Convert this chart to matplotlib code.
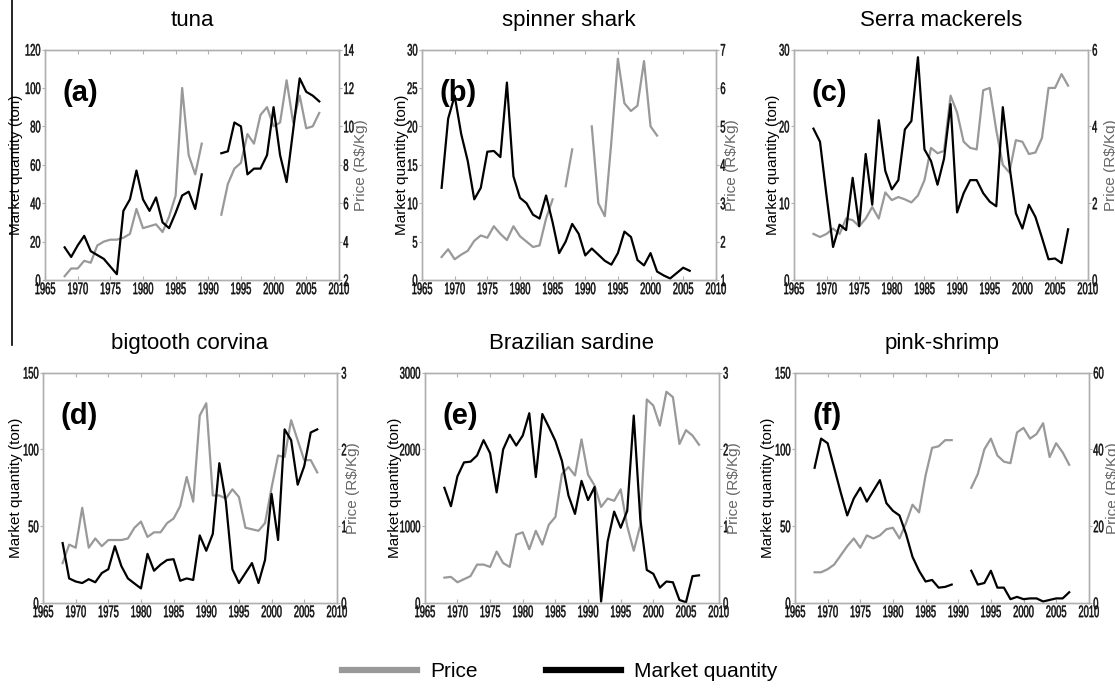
import numpy as np
import matplotlib
matplotlib.use("Agg")
import matplotlib.pyplot as plt
from matplotlib.lines import Line2D
from matplotlib.patheffects import AbstractPathEffect
from matplotlib.transforms import Affine2D

nan = np.nan

# Years on the x axis
years = list(range(1968, 2008))

# (a) tuna
tuna_qty = [17, 12, 18, 23, 15, 13, 11, 7, 3, 36, 42, 57, 42, 36, 43, 30, 27, 35, 44, 46,
            37, 55, nan, nan, 66, 67, 82, 80, 55, 58, 58, 65, 90, 65, 51, 78, 105, 98, 96, 93]
tuna_price = [2.2, 2.6, 2.6, 3.0, 2.9, 3.8, 4.0, 4.1, 4.1, 4.2, 4.4, 5.7, 4.7, 4.8, 4.9, 4.5,
              5.3, 6.4, 12.0, 8.5, 7.5, 9.1, nan, nan, 5.4, 7.0, 7.8, 8.1, 9.6, 9.1, 10.6,
              11.0, 10.0, 10.2, 12.4, 10.2, 11.6, 9.9, 10.0, 10.7]

# (b) spinner shark
shark_qty = [12, 21, 24, 19, 15.5, 10.5, 12, 16.7, 16.8, 16, 25.7, 13.5, 10.7, 10, 8.5, 8,
             11, 7.5, 3.5, 5, 7.3, 6, 3.2, 4.1, 3.3, 2.5, 2, 3.5, 6.3, 5.6, 2.6, 1.9, 3.5,
             1.1, 0.6, 0.2, 0.9, 1.6, 1.2, nan]
shark_price = [1.6, 1.8, 1.54, 1.66, 1.76, 2.02, 2.16, 2.1, 2.4, 2.2, 2.04, 2.4, 2.14, 2.0,
               1.86, 1.9, 2.6, 3.1, nan, 3.44, 4.4, nan, nan, 5.0, 3.0, 2.66, 4.6, 6.76,
               5.6, 5.4, 5.54, 6.7, 5.0, 4.76, nan, nan, nan, nan, nan, nan]

# (c) Serra mackerels
serra_qty = [19.7, 18, 11, 4.3, 7.2, 6.5, 13.3, 7, 16.4, 9.8, 20.8, 14.2, 11.8, 13, 19.6,
             20.7, 29, 17, 15.5, 12.4, 15.8, 22.9, 8.8, 11.3, 13, 13, 11.3, 10.2, 9.6, 22.5,
             15, 8.7, 6.7, 9.8, 8.2, 5.5, 2.7, 2.8, 2.2, 6.6]
serra_price = [1.2, 1.12, 1.2, 1.34, 1.2, 1.6, 1.56, 1.4, 1.6, 1.9, 1.6, 2.28, 2.08, 2.16,
               2.1, 2.02, 2.2, 2.6, 3.44, 3.3, 3.36, 4.8, 4.36, 3.6, 3.44, 3.4, 4.94, 5.0,
               3.9, 3.0, 2.8, 3.64, 3.6, 3.28, 3.32, 3.7, 5.0, 5.0, 5.36, 5.06]

# (d) bigtooth corvina
corvina_qty = [39, 16, 14, 13, 15.5, 13.5, 19.5, 22, 37, 24, 16, 12.7, 9.5, 32, 21, 25, 28,
               28.5, 14.5, 16, 15, 44, 34, 45, 91, 66, 22, 13, 19.5, 26, 13, 28, 71, 41,
               113, 106, 77, 89, 111, 113]
corvina_price = [0.52, 0.76, 0.72, 1.24, 0.72, 0.84, 0.74, 0.82, 0.82, 0.82, 0.84, 0.98,
                 1.06, 0.86, 0.92, 0.92, 1.04, 1.1, 1.26, 1.64, 1.32, 2.44, 2.6, 1.4, 1.4,
                 1.36, 1.48, 1.38, 0.98, 0.96, 0.94, 1.04, 1.5, 1.92, 1.9, 2.38, 2.12,
                 1.86, 1.86, 1.7]

# (e) Brazilian sardine
sardine_qty = [1500, 1260, 1650, 1830, 1840, 1920, 2120, 1950, 1440, 2000, 2190, 2050, 2180,
               2470, 1640, 2460, 2290, 2110, 1850, 1400, 1160, 1590, 1340, 1510, 20, 800,
               1190, 980, 1200, 2440, 1100, 430, 380, 200, 280, 270, 40, 10, 350, 360]
sardine_price = [0.33, 0.34, 0.27, 0.31, 0.35, 0.5, 0.5, 0.47, 0.67, 0.52, 0.47, 0.89, 0.92,
                 0.7, 0.94, 0.76, 1.02, 1.12, 1.68, 1.77, 1.66, 2.13, 1.67, 1.53, 1.25,
                 1.36, 1.33, 1.48, 1.0, 0.68, 1.01, 2.65, 2.57, 2.31, 2.75, 2.68, 2.07,
                 2.25, 2.18, 2.06]

# (f) pink-shrimp
shrimp_qty = [88, 107, 104, 88, 72, 57, 68, 75, 66, 73, 80, 65, 60, 57, 45, 30, 21, 14, 15,
              10, 10.5, 12, nan, nan, 21, 12, 13, 21, 10, 10, 2.5, 4, 2.5, 3, 3, 1, 2, 3, 3, 7]
shrimp_price = [8.0, 8.0, 8.8, 10.0, 12.4, 14.8, 16.8, 14.4, 17.6, 16.8, 17.6, 19.2, 19.6,
                16.8, 20.8, 25.6, 23.6, 33.2, 40.4, 40.8, 42.4, 42.4, nan, nan, 30.0, 33.6,
                40.0, 42.8, 38.4, 36.8, 36.4, 44.4, 45.6, 42.8, 44.0, 46.8, 38.0, 41.6,
                39.2, 36.0]

titles = ["tuna", "spinner shark", "Serra mackerels",
          "bigtooth corvina", "Brazilian sardine", "pink-shrimp"]
letters = ["(a)", "(b)", "(c)", "(d)", "(e)", "(f)"]
qty_list = [tuna_qty, shark_qty, serra_qty, corvina_qty, sardine_qty, shrimp_qty]
price_list = [tuna_price, shark_price, serra_price, corvina_price, sardine_price, shrimp_price]
qty_ticks = [[0, 20, 40, 60, 80, 100, 120], [0, 5, 10, 15, 20, 25, 30], [0, 10, 20, 30],
             [0, 50, 100, 150], [0, 1000, 2000, 3000], [0, 50, 100, 150]]
price_ticks = [[2, 4, 6, 8, 10, 12, 14], [1, 2, 3, 4, 5, 6, 7], [0, 2, 4, 6],
               [0, 1, 2, 3], [0, 1, 2, 3], [0, 20, 40, 60]]
year_ticks = list(range(1965, 2011, 5))


# squeeze text horizontally, the tick numbers in the original are very narrow
class Squeeze(AbstractPathEffect):
    def __init__(self, sx=0.56, anchor="center"):
        super().__init__()
        self.sx = sx
        self.anchor = anchor

    def draw_path(self, renderer, gc, tpath, affine, rgbFace=None):
        ext = tpath.get_extents()
        if self.anchor == "left":
            cx = ext.x0
        elif self.anchor == "right":
            cx = ext.x1
        else:
            cx = (ext.x0 + ext.x1) / 2
        sq = Affine2D().translate(-cx, 0).scale(self.sx, 1).translate(cx, 0)
        # thin outline so the squeezed digits do not look too light
        gc0 = renderer.new_gc()
        gc0.copy_properties(gc)
        gc0.set_linewidth(0.35)
        if rgbFace is not None:
            gc0.set_foreground(rgbFace)
        renderer.draw_path(gc0, tpath, sq + affine, rgbFace)
        gc0.restore()


GRAY = "#999999"
SPINE = "#b0b0b0"
plt.rcParams["font.family"] = ["Liberation Sans", "DejaVu Sans"]

fig = plt.figure(figsize=(11.15, 6.89), dpi=100)

# axes placement (figure fractions)
lefts = [0.0404, 0.3785, 0.712, 0.0386, 0.381, 0.713]
bottoms = [0.5936, 0.5936, 0.5936, 0.1248, 0.1248, 0.1248]
width, height = 0.2635, 0.3345
left_lab_x = [-0.076, -0.046, -0.047, -0.067, -0.078, -0.068]
right_lab_x = [1.05, 1.03, 1.056, 1.03, 1.03, 1.06]

for i in range(6):
    ax = fig.add_axes([lefts[i], bottoms[i], width, height])
    ax2 = ax.twinx()

    ax2.plot(years, price_list[i], color=GRAY, lw=1.6)
    ax.plot(years, qty_list[i], color="black", lw=1.6)
    ax.set_zorder(ax2.get_zorder() + 1)
    ax.patch.set_visible(False)

    ax.set_xlim(1965, 2010)
    ax.set_ylim(qty_ticks[i][0], qty_ticks[i][-1])
    ax2.set_ylim(price_ticks[i][0], price_ticks[i][-1])
    ax.set_xticks(year_ticks)
    ax.set_yticks(qty_ticks[i])
    ax2.set_yticks(price_ticks[i])

    for a in (ax, ax2):
        a.tick_params(axis="y", direction="out", length=2.5, width=0.8, color=SPINE,
                      labelsize=12, pad=0.5, labelcolor="#111111")
        for sp in a.spines.values():
            sp.set_color(SPINE)
            sp.set_linewidth(1.0)
    ax.tick_params(axis="x", direction="in", length=3, width=0.8, color=SPINE,
                   labelsize=12, pad=1.5, labelcolor="#111111", top=True)

    for lab in ax.get_xticklabels():
        lab.set_path_effects([Squeeze(0.56, "center")])
    for lab in ax.get_yticklabels():
        lab.set_path_effects([Squeeze(0.56, "right")])
    for lab in ax2.get_yticklabels():
        lab.set_path_effects([Squeeze(0.56, "left")])

    ax.set_ylabel("Market quantity (ton)", fontsize=11)
    ax2.set_ylabel("Price (R$/Kg)", fontsize=11, color="#666666")
    ax.yaxis.set_label_coords(left_lab_x[i], 0.5)
    ax2.yaxis.set_label_coords(right_lab_x[i], 0.5)
    ax.set_title(titles[i], fontsize=16, pad=17)
    ax.text(0.06, 0.81, letters[i], transform=ax.transAxes, fontsize=21,
            fontweight="bold", va="center", ha="left")

# stray vertical rule at the left edge of the reference
fig.add_artist(Line2D([12 / 1115, 12 / 1115], [1.0, 1 - 345 / 689],
                      transform=fig.transFigure, color="black", lw=1.2))

handles = [Line2D([], [], color=GRAY, lw=4.5, label="Price"),
           Line2D([], [], color="black", lw=4.5, label="Market quantity")]
fig.legend(handles=handles, loc="center", bbox_to_anchor=(0.502, 0.025), ncol=2,
           frameon=False, fontsize=15, handlelength=3.6, handletextpad=0.6,
           columnspacing=3.3)

fig.savefig("out.png", dpi=100)
